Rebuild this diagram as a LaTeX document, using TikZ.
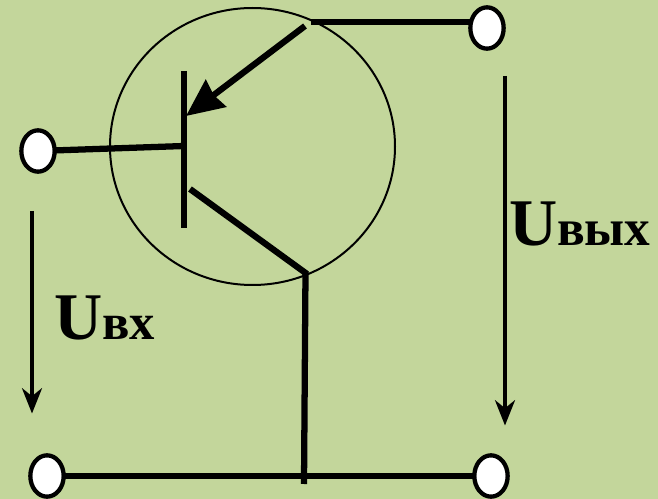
\documentclass[tikz,border=0pt]{standalone}
\usepackage{fontspec}
\setmainfont{Liberation Serif}
\usetikzlibrary{shapes.geometric,arrows.meta}
\definecolor{bgcol}{HTML}{C3D69B}
\tikzset{
  terminal/.style={ellipse,draw=black,fill=white,line width=3.2pt,minimum width=25pt,minimum height=31pt,inner sep=0pt,outer sep=0pt},
  wire/.style={line width=4.7pt,black},
  volt/.style={line width=2.5pt,black,-{Stealth[length=19pt,width=15pt,inset=6pt]}},
  lbl/.style={inner sep=0pt,outer sep=0pt,anchor=base west,font=\bfseries},
}
\begin{document}
\begin{tikzpicture}[x=0.75pt,y=-0.75pt]
\useasboundingbox (0,0) rectangle (658,499);
\fill[bgcol] (0,0) rectangle (658,499);
\draw[line width=1.5pt] (252.5,146.5) ellipse [x radius=142.5,y radius=138.5];
\coordinate (topA) at (311,22);
\coordinate (emA) at (305,26);
\coordinate (emB) at (186,116);
\coordinate (baseTop) at (184,71);
\coordinate (baseBot) at (184,228);
\coordinate (baseIn) at (184,146);
\coordinate (colA) at (190,189);
\coordinate (colB) at (307,274);
\coordinate (gndTop) at (305.5,272);
\coordinate (gndBot) at (304,484);
\coordinate (inA) at (32,211);
\coordinate (inB) at (32,413.5);
\coordinate (outA) at (505,76);
\coordinate (outB) at (505,425.5);
\node[terminal] (tb) at (38,151) {};
\node[terminal] (tc) at (487,28) {};
\node[terminal] (tl) at (47,476) {};
\node[terminal] (tr) at (491,476) {};
\draw[wire] (tb) -- (baseIn);
\draw[wire] (topA) -- (tc.west |- topA);
\draw[wire] (tl) -- (tr);
\draw[wire] (baseTop) -- (baseBot);
\draw[wire,-{Stealth[length=28pt,width=25pt,inset=2pt]}] (emA) -- (emB);
\draw[wire] (colA) -- (colB);
\draw[wire] (gndTop) -- (gndBot);
\draw[volt] (inA) -- (inB);
\draw[volt] (outA) -- (outB);
\node[lbl] (ubx) at (54,340) {\fontsize{50pt}{50pt}\selectfont U\fontsize{38pt}{38pt}\selectfont вх};
\node[lbl] (ubyx) at (509,246) {\fontsize{50pt}{50pt}\selectfont U\fontsize{38.5pt}{39pt}\selectfont вых};
\end{tikzpicture}
\end{document}
